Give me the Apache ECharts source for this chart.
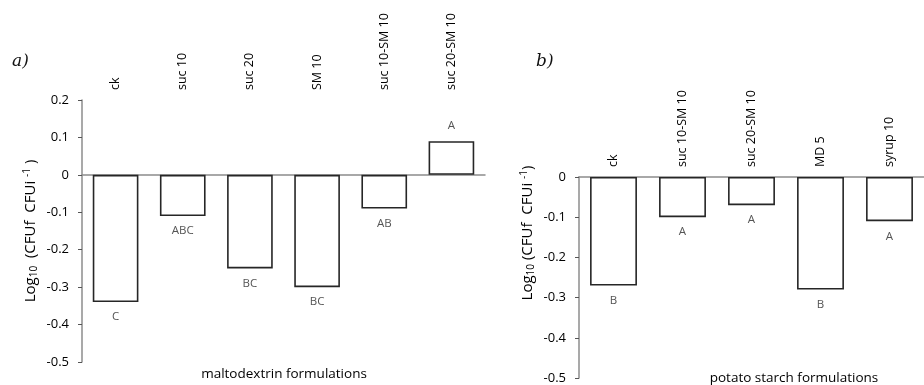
<!DOCTYPE html>
<html>
<head>
<meta charset="utf-8">
<script src="https://cdn.jsdelivr.net/npm/echarts@6/dist/echarts.min.js"></script>
<style>
html,body{margin:0;padding:0;background:#fff;}
#c{width:924px;height:385px;}
</style>
</head>
<body>
<div id="c"></div>
<script>
// Panel a) maltodextrin formulations
const catsA = ['ck', 'suc 10', 'suc 20', 'SM 10', 'suc 10-SM 10', 'suc 20-SM 10'];
const valsA = [-0.34, -0.11, -0.25, -0.30, -0.09, 0.09];
const lettersA = ['C', 'ABC', 'BC', 'BC', 'AB', 'A'];
// Panel b) potato starch formulations
const catsB = ['ck', 'suc 10-SM 10', 'suc 20-SM 10', 'MD 5', 'syrup 10'];
const valsB = [-0.27, -0.10, -0.07, -0.28, -0.11];
const lettersB = ['B', 'A', 'A', 'B', 'A'];
const xTitleA = 'maltodextrin formulations';
const xTitleB = 'potato starch formulations';

const FONT = 'Open Sans';
const chart = echarts.init(document.getElementById('c'), null, {renderer: 'canvas'});

function xAxes(cats, grid) {
  return [
    {
      type: 'category', gridIndex: grid, data: cats, position: 'bottom',
      axisLine: {show: true, onZero: true, lineStyle: {color: '#8c8c8c', width: 1.5}},
      axisTick: {show: false}, axisLabel: {show: false}
    },
    {
      type: 'category', gridIndex: grid, data: cats, position: 'top',
      axisLine: {show: false}, axisTick: {show: false},
      axisLabel: {rotate: -90, margin: 10, color: '#000', fontFamily: FONT, fontSize: 12.5, interval: 0}
    }
  ];
}
function yAxis(grid, min, max) {
  return {
    type: 'value', gridIndex: grid, min: min, max: max, interval: 0.1,
    axisLine: {show: true, lineStyle: {color: '#8c8c8c', width: 1.5}},
    axisTick: {show: true, length: 4, lineStyle: {color: '#555'}},
    splitLine: {show: false},
    axisLabel: {color: '#000', fontFamily: FONT, fontSize: 13, margin: 13}
  };
}
function series(vals, letters, xi, yi) {
  return {
    type: 'bar', xAxisIndex: xi, yAxisIndex: yi,
    data: vals.map((v, i) => ({value: v, label: {formatter: letters[i]}})),
    barCategoryGap: '32%',
    itemStyle: {color: '#fff', borderColor: '#262626', borderWidth: 1.6},
    label: {show: true, position: 'outside', distance: 9, color: '#555', fontFamily: FONT, fontSize: 11.5},
    silent: true
  };
}
const yTitleRich = {
  r: {fontFamily: FONT, fontSize: 15, color: '#000'},
  sub: {fontFamily: FONT, fontSize: 10, color: '#000', verticalAlign: 'bottom', padding: [7, 0, 0, 0]},
  sup: {fontFamily: FONT, fontSize: 10, color: '#000', verticalAlign: 'top', padding: [0, 0, 7, 0]}
};
const yTitleText = '{r|Log}{sub|10}{r|  (CFUf  CFUi }{sup|-1}{r| )}';
const yTitleTextB = '{r|Log}{sub|10}{r| (CFUf  CFUi }{sup|-1}{r|)}';

chart.setOption({
  animation: false,
  backgroundColor: '#fff',
  grid: [
    {left: 82, top: 100, right: 439, bottom: 23, containLabel: false},
    {left: 579, top: 177, right: -12, bottom: 7, containLabel: false}
  ],
  xAxis: [].concat(xAxes(catsA, 0), xAxes(catsB, 1)),
  yAxis: [yAxis(0, -0.5, 0.2), yAxis(1, -0.5, 0)],
  series: [series(valsA, lettersA, 0, 0), series(valsB, lettersB, 2, 1)],
  graphic: [
    {type: 'text', left: 12, top: 53, style: {text: 'a)', font: 'italic 17px "DejaVu Serif"', fill: '#111'}},
    {type: 'text', left: 536, top: 53, style: {text: 'b)', font: 'italic 17px "DejaVu Serif"', fill: '#111'}},
    {type: 'text', x: 31, y: 231, rotation: Math.PI / 2,
     style: {text: yTitleText, rich: yTitleRich, align: 'center', verticalAlign: 'middle'}},
    {type: 'text', x: 528, y: 233, rotation: Math.PI / 2,
     style: {text: yTitleTextB, rich: yTitleRich, align: 'center', verticalAlign: 'middle'}},
    {type: 'text', x: 284, y: 374,
     style: {text: xTitleA, font: '13.5px "Open Sans"', fill: '#000', align: 'center', verticalAlign: 'middle'}},
    {type: 'text', x: 794, y: 378,
     style: {text: xTitleB, font: '13.5px "Open Sans"', fill: '#000', align: 'center', verticalAlign: 'middle'}}
  ]
});
</script>
</body>
</html>
